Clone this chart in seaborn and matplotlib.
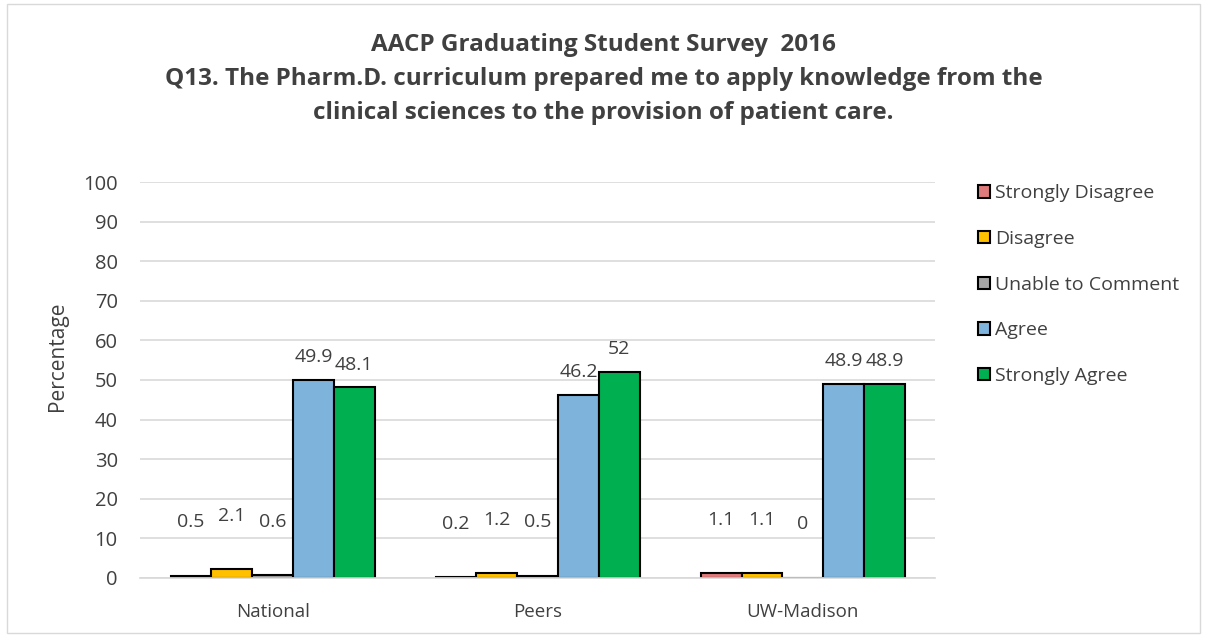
import matplotlib
matplotlib.use("Agg")
import matplotlib.pyplot as plt
import seaborn as sns
import pandas as pd
from matplotlib.patches import Patch

groups = ["National", "Peers", "UW-Madison"]
responses = ["Strongly Disagree", "Disagree", "Unable to Comment", "Agree", "Strongly Agree"]
strongly_disagree = [0.5, 0.2, 1.1]
disagree = [2.1, 1.2, 1.1]
unable = [0.6, 0.5, 0]
agree = [49.9, 46.2, 48.9]
strongly_agree = [48.1, 52, 48.9]
colors = ["#E07B7B", "#FFC000", "#A5A5A5", "#7EB3DC", "#00B050"]

series = [strongly_disagree, disagree, unable, agree, strongly_agree]
rows = []
for resp, vals in zip(responses, series):
    for g, v in zip(groups, vals):
        rows.append({"Group": g, "Response": resp, "Value": v})
df = pd.DataFrame(rows)

sns.set_theme(style="white")
plt.rcParams['font.family'] = ['Open Sans', 'DejaVu Sans']
txt = "#404040"

fig = plt.figure(figsize=(12.07, 6.37), dpi=100)
ax = fig.add_axes([0.116, 0.093, 0.659, 0.621])

sns.barplot(data=df, x="Group", y="Value", hue="Response", order=groups,
            hue_order=responses, palette=colors, width=0.77, saturation=1,
            edgecolor="black", linewidth=1.5, ax=ax, legend=False)

for c in ax.containers:
    for bar, v in zip(c, c.datavalues):
        pad = 32 if v < 5 else 10
        ax.bar_label(type(c)([bar], datavalues=[v], orientation="vertical"),
                     labels=["%g" % v], padding=pad, fontsize=14, color=txt)

ax.set_ylim(0, 100)
ax.set_yticks(range(0, 101, 10))
ax.yaxis.grid(True, color="#D9D9D9", linewidth=1.2)
ax.set_axisbelow(True)
for s in ["top", "right", "left"]:
    ax.spines[s].set_visible(False)
ax.spines["bottom"].set_color("#D9D9D9")
ax.tick_params(axis="y", labelsize=14.5, colors=txt, length=0, pad=16)
ax.tick_params(axis="x", labelsize=13.5, colors=txt, length=0, pad=18)
ax.set_xlabel("")
ax.set_ylabel("Percentage", fontsize=15, color=txt)
ax.yaxis.set_label_coords(-0.09, 0.56)

handles = [Patch(facecolor=c, edgecolor="black", linewidth=1.5) for c in colors]
fig.legend(handles, responses, loc="upper left", bbox_to_anchor=(0.796, 0.738),
           frameon=False, fontsize=14, labelcolor=txt, handlelength=0.6,
           handleheight=0.6, handletextpad=0.25, labelspacing=1.42)

fig.suptitle("AACP Graduating Student Survey  2016\nQ13. The Pharm.D. curriculum prepared me to apply knowledge from the\nclinical sciences to the provision of patient care.",
             y=0.948, fontsize=17.5, fontweight="bold", color=txt, linespacing=1.55)

border = plt.Rectangle((0.006, 0.006), 0.988, 0.988, transform=fig.transFigure,
                       fill=False, edgecolor="#D9D9D9", linewidth=1)
fig.patches.append(border)

fig.savefig("out.png", dpi=100)
